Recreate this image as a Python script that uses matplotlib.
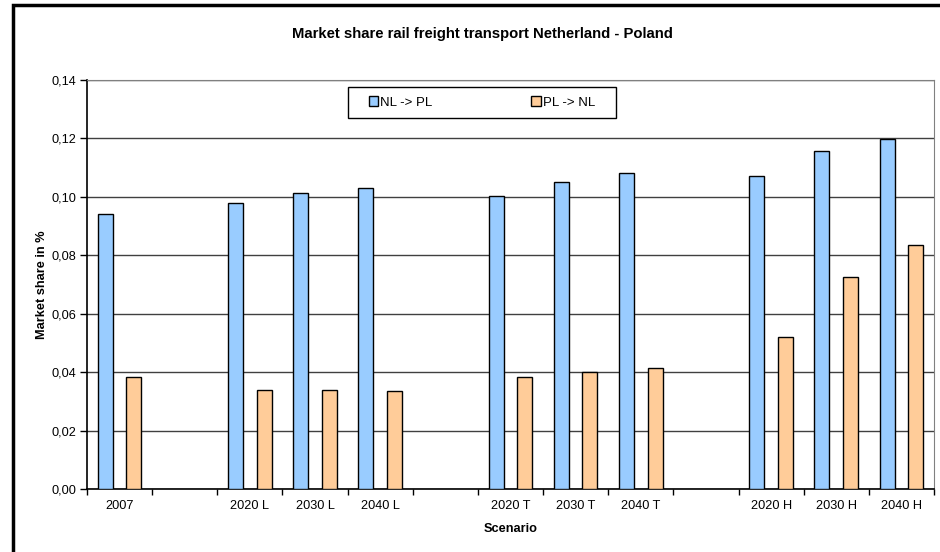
import numpy as np
import matplotlib.pyplot as plt
from matplotlib.patches import Rectangle
from matplotlib.ticker import FixedLocator, FuncFormatter

plt.rcParams['font.family'] = ['Liberation Sans', 'DejaVu Sans']

# scenarios, empty strings are the blank gaps between groups
scenarios = ['2007', '', '2020 L', '2030 L', '2040 L', '', '2020 T', '2030 T', '2040 T',
             '', '2020 H', '2030 H', '2040 H']
nl_pl = [0.0942, np.nan, 0.0978, 0.1012, 0.1032, np.nan, 0.1002, 0.1052, 0.1080,
         np.nan, 0.1071, 0.1156, 0.1198]
pl_nl = [0.0382, np.nan, 0.0340, 0.0338, 0.0336, np.nan, 0.0382, 0.0402, 0.0414,
         np.nan, 0.0520, 0.0726, 0.0836]

W, H = 940, 552
fs = 9.2
fig = plt.figure(figsize=(W / 100, H / 100), dpi=100)
ax = fig.add_axes([87 / W, 1 - 489 / H, (934 - 87) / W, (489 - 80) / H])

x = np.arange(len(scenarios))
bw = 0.23
ax.bar(x - 0.22, nl_pl, bw, color='#99CCFF', edgecolor='black', linewidth=1, label='NL -> PL', zorder=3)
ax.bar(x + 0.22, pl_nl, bw, color='#FFCC99', edgecolor='black', linewidth=1, label='PL -> NL', zorder=3)

ax.set_xlim(-0.5, len(scenarios) - 0.5)
ax.set_ylim(0, 0.14)
ax.set_yticks(np.arange(0, 0.141, 0.02))
ax.yaxis.set_major_formatter(FuncFormatter(lambda v, p: f'{v:.2f}'.replace('.', ',')))
ax.yaxis.grid(True, color='#404040', linewidth=1, zorder=0)
ax.tick_params(axis='y', direction='out', length=5, width=1, labelsize=fs, pad=3)

ax.set_xticks(x)
ax.set_xticklabels(scenarios, fontsize=fs)
ax.tick_params(axis='x', which='major', length=0, pad=8)
ax.xaxis.set_minor_locator(FixedLocator(np.arange(-0.5, len(scenarios), 1.0)))
ax.tick_params(axis='x', which='minor', direction='out', length=4, width=1)

for side in ['top', 'right']:
    ax.spines[side].set_color('#808080')
for side in ['left', 'bottom']:
    ax.spines[side].set_color('black')
    ax.spines[side].set_linewidth(1.2)

ax.set_xlabel('Scenario', fontsize=fs, fontweight='bold', labelpad=8)
ax.set_ylabel('Market share in %', fontsize=fs, fontweight='bold', labelpad=2)

fig.text(482 / W, 1 - 34 / H, 'Market share rail freight transport Netherland - Poland',
         ha='center', va='center', fontsize=10.7, fontweight='bold')

# legend box drawn separately, entries centred inside it
ax.add_patch(Rectangle((348 / W, 1 - 118 / H), (616 - 348) / W, 31 / H,
                       transform=fig.transFigure, facecolor='white', clip_on=False,
                       edgecolor='black', linewidth=1, zorder=4))
leg = ax.legend(ncol=2, loc='center', fontsize=9.5, frameon=False,
                bbox_to_anchor=(482 / W, 1 - 102.5 / H), bbox_transform=fig.transFigure,
                handlelength=0.7, handleheight=0.7, handletextpad=0.15, columnspacing=7.5)
leg.set_zorder(5)

# outer chart frame
fig.patches.append(Rectangle((13 / W, -0.05), 1.1, 1 - 5 / H + 0.05, transform=fig.transFigure,
                             fill=False, edgecolor='black', linewidth=2.5))

fig.savefig('out.png', dpi=100)
